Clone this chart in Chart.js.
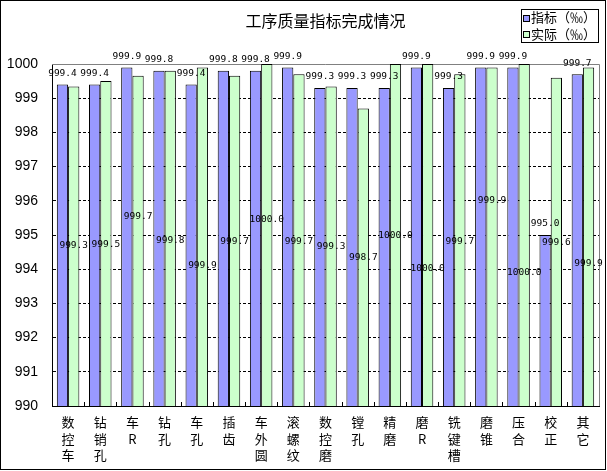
<!DOCTYPE html>
<html>
<head>
<meta charset="utf-8">
<title>工序质量指标完成情况</title>
<script src="https://cdn.jsdelivr.net/npm/chart.js@4.4.0/dist/chart.umd.min.js"></script>
<style>
html, body { margin: 0; padding: 0; background: #fff; }
#wrap { width: 607px; height: 471px; position: relative; }
</style>
</head>
<body>
<div id="wrap"><canvas id="qualityChart"></canvas></div>
<script>
const chartTitle = '工序质量指标完成情况';
const categories = [
    ['数', '控', '车'], ['钻', '销', '孔'], ['车', 'R'], ['钻', '孔'], ['车', '孔'],
    ['插', '齿'], ['车', '外', '圆'], ['滚', '螺', '纹'], ['数', '控', '磨'], ['镗', '孔'],
    ['精', '磨'], ['磨', 'R'], ['铣', '键', '槽'], ['磨', '锥'], ['压', '合'],
    ['校', '正'], ['其', '它']
];
const seriesNames = ['指标（‰）', '实际（‰）'];
const targetValues = [999.4, 999.4, 999.9, 999.8, 999.4, 999.8, 999.8, 999.9, 999.3, 999.3, 999.3, 999.9, 999.3, 999.9, 999.9, 995.0, 999.7];
const actualValues = [999.34, 999.5, 999.66, 999.8, 999.9, 999.66, 1000.0, 999.7, 999.34, 998.7, 1000.0, 1000.0, 999.7, 999.9, 1000.0, 999.6, 999.9];
// where the "actual" value labels were dragged to, in axis units
const actualLabelAt = [994.68, 994.71, 995.53, 994.85, 994.10, 994.80, 995.44, 994.80, 994.66, 994.33, 994.97, 994.01, 994.82, 996.02, 993.90, 994.77, 994.18];
const yMin = 990;
const yMax = 1000;
const yStep = 1;

const targetColor = '#9999FF';
const actualColor = '#CCFFCC';
const cjkFont = "'Noto Sans CJK SC', 'Noto Sans', sans-serif";

Chart.defaults.font.family = cjkFont;
Chart.defaults.color = '#000';

const framePlugin = {
    id: 'frame',
    beforeDraw(chart) {
        const ctx = chart.ctx;
        ctx.save();
        ctx.fillStyle = '#fff';
        ctx.fillRect(0, 0, chart.width, chart.height);
        ctx.restore();
    },
    beforeDatasetsDraw(chart) {
        // grey plot-area border, top and right
        const {ctx, chartArea: a} = chart;
        ctx.save();
        ctx.strokeStyle = '#808080';
        ctx.lineWidth = 1;
        ctx.beginPath();
        ctx.moveTo(a.left, Math.round(a.top) + 0.5);
        ctx.lineTo(Math.round(a.right) + 0.5, Math.round(a.top) + 0.5);
        ctx.lineTo(Math.round(a.right) + 0.5, a.bottom);
        ctx.stroke();
        ctx.restore();
    },
    afterDatasetsDraw(chart) {
        const ctx = chart.ctx;
        const yScale = chart.scales.y;
        ctx.save();
        ctx.font = "9.5px 'DejaVu Sans Mono', monospace";
        ctx.textAlign = 'center';
        ctx.textBaseline = 'middle';
        ctx.fillStyle = '#000';
        chart.getDatasetMeta(0).data.forEach((bar, i) => {
            ctx.fillText(targetValues[i].toFixed(1), bar.x, bar.y - 11);
        });
        chart.getDatasetMeta(1).data.forEach((bar, i) => {
            ctx.fillText(actualValues[i].toFixed(1), bar.x, yScale.getPixelForValue(actualLabelAt[i]));
        });
        ctx.restore();
    },
    afterDraw(chart) {
        const {ctx, chartArea: a} = chart;
        const xScale = chart.scales.x;
        ctx.save();

        // small inner tick marks between categories
        const catWidth = (a.right - a.left) / categories.length;
        ctx.strokeStyle = '#000';
        ctx.lineWidth = 1;
        ctx.beginPath();
        for (let i = 0; i < categories.length - 1; i++) {
            const x = Math.round(xScale.getPixelForValue(i) + catWidth / 2) + 0.5;
            ctx.moveTo(x, a.bottom - 4);
            ctx.lineTo(x, a.bottom);
        }
        ctx.stroke();

        // title, centred over the plot area
        ctx.fillStyle = '#000';
        ctx.font = '16px ' + cjkFont;
        ctx.textAlign = 'center';
        ctx.textBaseline = 'middle';
        ctx.fillText(chartTitle, (a.left + a.right) / 2, 20.5);

        // legend box
        ctx.fillStyle = '#fff';
        ctx.fillRect(521.5, 9.5, 77, 33);
        ctx.strokeStyle = '#000';
        ctx.strokeRect(521.5, 9.5, 77, 33);
        const rows = [[seriesNames[0], targetColor, 17.5], [seriesNames[1], actualColor, 34]];
        ctx.font = '13px ' + cjkFont;
        ctx.textAlign = 'left';
        rows.forEach(([text, color, y]) => {
            ctx.fillStyle = color;
            ctx.fillRect(523.5, Math.round(y - 3) + 0.5, 6, 6);
            ctx.strokeRect(523.5, Math.round(y - 3) + 0.5, 6, 6);
            ctx.fillStyle = '#000';
            ctx.fillText(text, 531, y);
        });

        // outer frame
        ctx.strokeRect(0.5, 0.5, 605, 469);
        ctx.restore();
    }
};

const qualityCtx = document.getElementById('qualityChart').getContext('2d');
const qualityChart = new Chart(qualityCtx, {
    type: 'bar',
    data: {
        labels: categories,
        datasets: [
            {
                label: seriesNames[0],
                data: targetValues,
                backgroundColor: targetColor,
                borderColor: '#000',
                borderWidth: 1
            },
            {
                label: seriesNames[1],
                data: actualValues,
                backgroundColor: actualColor,
                borderColor: '#000',
                borderWidth: 1
            }
        ]
    },
    options: {
        responsive: true,
        maintainAspectRatio: false,
        animation: false,
        categoryPercentage: 0.7,
        barPercentage: 1.0,
        layout: {
            padding: { top: 64, right: 8, left: 0, bottom: 0 }
        },
        plugins: {
            legend: { display: false },
            title: { display: false },
            tooltip: { enabled: false }
        },
        scales: {
            x: {
                grid: { display: false, drawTicks: false },
                border: { display: true, color: '#000', width: 1 },
                ticks: {
                    color: '#000',
                    font: { family: cjkFont, size: 13, lineHeight: 1.27 },
                    padding: 8,
                    maxRotation: 0,
                    autoSkip: false
                },
                afterFit(scale) { scale.height = 65; }
            },
            y: {
                min: yMin,
                max: yMax,
                ticks: {
                    stepSize: yStep,
                    color: '#000',
                    font: { family: "'Liberation Sans', Arial, sans-serif", size: 14 },
                    padding: 14,
                    callback: (v) => String(v)
                },
                grid: {
                    color: (c) => (c.tick && (c.tick.value === yMin || c.tick.value === yMax)) ? 'rgba(0,0,0,0)' : '#000',
                    lineWidth: 1,
                    drawTicks: false
                },
                border: { display: true, color: '#000', width: 1, dash: [3, 2] },
                afterFit(scale) { scale.width = 52; }
            }
        }
    },
    plugins: [framePlugin]
});
</script>
</body>
</html>
